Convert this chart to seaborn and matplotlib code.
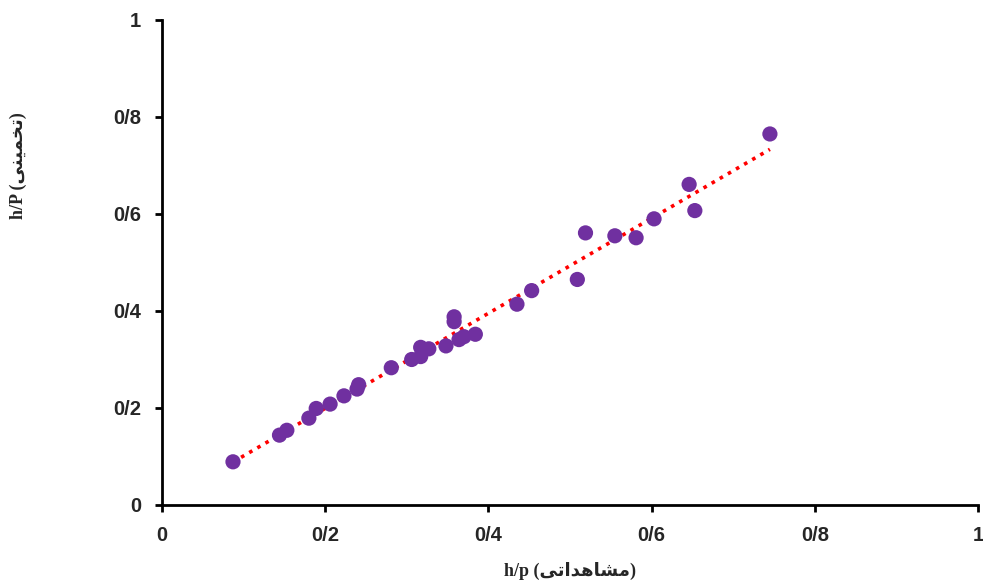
import numpy as np
import pandas as pd
import seaborn as sns
import matplotlib.pyplot as plt

# observed vs estimated h/p
observed = [0.087, 0.144, 0.153, 0.180, 0.189, 0.206, 0.223, 0.239, 0.241, 0.281,
            0.306, 0.317, 0.317, 0.327, 0.348, 0.358, 0.358, 0.364, 0.370, 0.384,
            0.435, 0.453, 0.509, 0.519, 0.555, 0.581, 0.603, 0.646, 0.653, 0.745]
estimated = [0.089, 0.144, 0.154, 0.179, 0.199, 0.208, 0.225, 0.239, 0.248, 0.283,
             0.300, 0.306, 0.325, 0.322, 0.328, 0.388, 0.378, 0.341, 0.347, 0.352,
             0.414, 0.442, 0.465, 0.561, 0.555, 0.551, 0.590, 0.661, 0.607, 0.765]
ticks = [0, 0.2, 0.4, 0.6, 0.8, 1]
tick_labels = ["0", "0/2", "0/4", "0/6", "0/8", "1"]

df = pd.DataFrame({"observed": observed, "estimated": estimated})

# Persian words pre-shaped (presentation forms, visual order)
x_word = "\ufef0\ufe97\ufe8d\ufeaa\ufeeb\ufe8e\ufeb8\ufee3"   # مشاهداتی
y_word = "\ufef0\ufee8\ufef4\ufee4\ufea8\ufe97"               # تخمینی

sns.set_style("white")
plt.rcParams["font.family"] = ["Liberation Sans", "DejaVu Sans"]

fig = plt.figure(figsize=(9.83, 5.88), dpi=100)
ax = fig.add_axes([0.1648, 0.1412, 0.8301, 0.8248])

sns.scatterplot(data=df, x="observed", y="estimated", color="#7030A0",
                s=120, edgecolor="none", ax=ax, zorder=3)
sns.regplot(data=df, x="observed", y="estimated", scatter=False, ci=None,
            color="red", line_kws={"linestyle": (0, (1, 1.6)), "linewidth": 2.6},
            ax=ax)

ax.set_xlim(0, 1)
ax.set_ylim(0, 1)
ax.set_xticks(ticks)
ax.set_xticklabels(tick_labels)
ax.set_yticks(ticks)
ax.set_yticklabels(tick_labels)
ax.tick_params(axis="both", direction="out", length=5, width=2, color="black",
               labelsize=14.5, bottom=True, left=True)
ax.tick_params(axis="y", pad=10)
ax.tick_params(axis="x", pad=10)
for lab in ax.get_xticklabels() + ax.get_yticklabels():
    lab.set_fontweight("bold")

sns.despine(ax=ax)
for side in ["left", "bottom"]:
    ax.spines[side].set_linewidth(2)
    ax.spines[side].set_color("black")

lab_font = ["Liberation Serif", "DejaVu Sans"]
ax.set_xlabel("h/p (" + x_word + ")", fontsize=13, fontweight="bold", family=lab_font)
ax.set_ylabel("h/P (" + y_word + ")", fontsize=13, fontweight="bold", family=lab_font)
ax.xaxis.set_label_coords(0.5, -0.118)
ax.yaxis.set_label_coords(-0.166, 0.70)

plt.savefig("out.png", dpi=100)
